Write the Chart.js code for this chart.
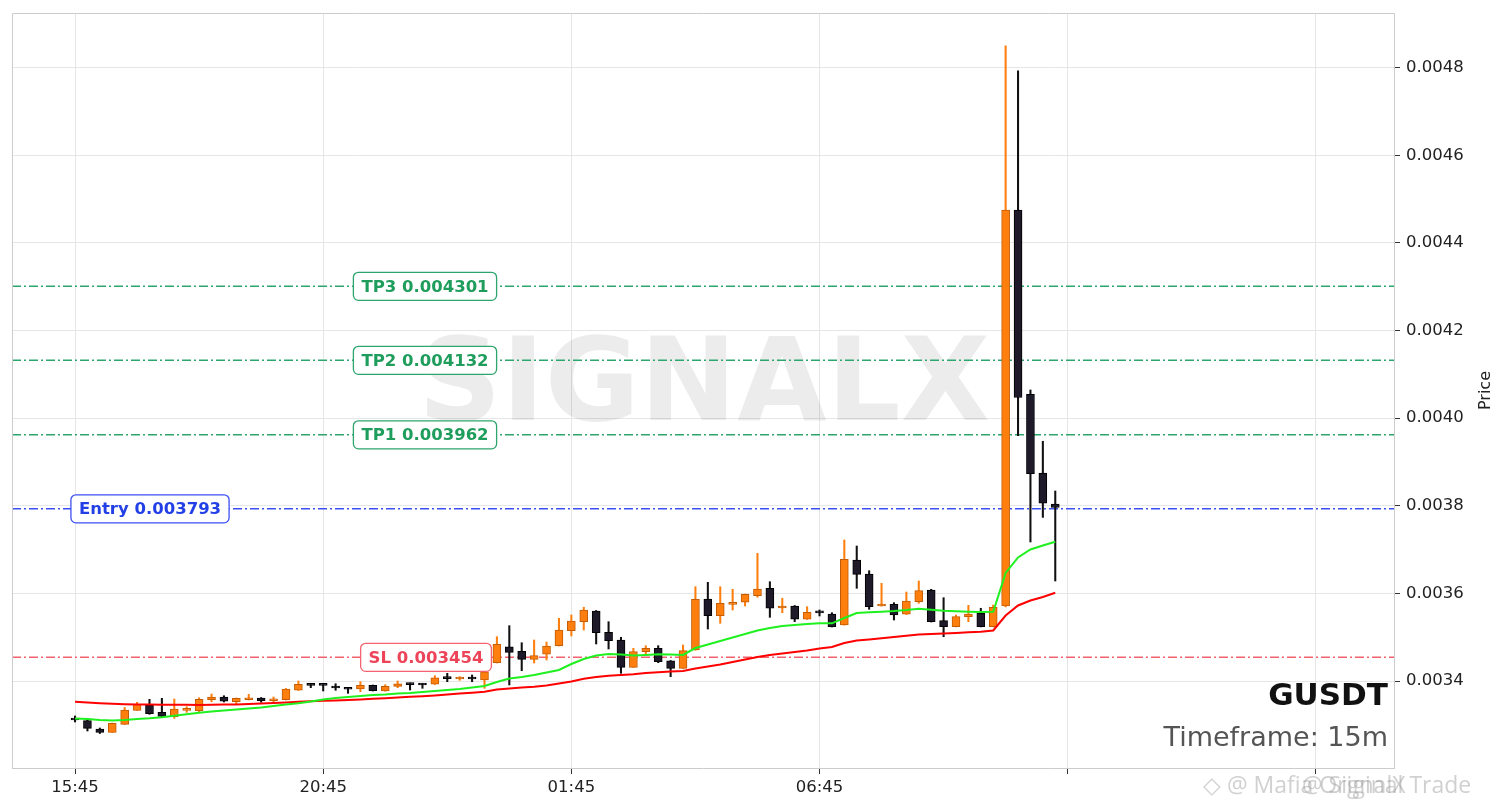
<!DOCTYPE html>
<html>
<head>
<meta charset="utf-8">
<script src="https://cdn.jsdelivr.net/npm/chart.js@4.4.1/dist/chart.umd.min.js"></script>
<style>
  html, body { margin: 0; padding: 0; background: #fff; }
  canvas { display: block; }
</style>
</head>
<body>
<canvas id="chart" width="1501" height="808"></canvas>
<script>
// GUSDT 15m candles, index 0 = 15:45
const opens = [
  0.0033144, 0.0033094, 0.0032904, 0.0032829, 0.0033011, 0.0033331, 0.0033452, 0.0033285, 0.0033185, 0.0033331,
  0.0033322, 0.0033573, 0.0033635, 0.0033527, 0.0033573, 0.0033612, 0.0033550, 0.0033573, 0.0033788, 0.0033932,
  0.0033938, 0.0033879, 0.0033840, 0.0033817, 0.0033902, 0.0033772, 0.0033879, 0.0033947, 0.0033932, 0.0033925,
  0.0034075, 0.0034046, 0.0034068, 0.0034023, 0.0034418, 0.0034783, 0.0034678, 0.0034495, 0.0034610, 0.0034806,
  0.0035148, 0.0035354, 0.0035598, 0.0035112, 0.0034936, 0.0034313, 0.0034669, 0.0034747, 0.0034463, 0.0034290,
  0.0034708, 0.0035872, 0.0035491, 0.0035751, 0.0035797, 0.0035947, 0.0036116, 0.0035667, 0.0035712, 0.0035409,
  0.0035587, 0.0035530, 0.0035279, 0.0036763, 0.0036443, 0.0035712, 0.0035751, 0.0035523, 0.0035810, 0.0036078,
  0.0035377, 0.0035240, 0.0035468, 0.0035546, 0.0035240, 0.0035712, 0.0044753, 0.0040543, 0.0038749, 0.0038041
];
const highs = [
  0.0033201, 0.0033144, 0.0032927, 0.0033041, 0.0033395, 0.0033514, 0.0033582, 0.0033605, 0.0033589, 0.0033413,
  0.0033619, 0.0033703, 0.0033664, 0.0033612, 0.0033696, 0.0033623, 0.0033635, 0.0033829, 0.0034000, 0.0033936,
  0.0033947, 0.0033938, 0.0033845, 0.0033984, 0.0033909, 0.0033916, 0.0034000, 0.0033954, 0.0033943, 0.0034121,
  0.0034176, 0.0034098, 0.0034137, 0.0034290, 0.0035011, 0.0035263, 0.0034874, 0.0034936, 0.0034890, 0.0035432,
  0.0035507, 0.0035683, 0.0035610, 0.0035354, 0.0034998, 0.0034747, 0.0034806, 0.0034806, 0.0034468, 0.0034822,
  0.0036153, 0.0036253, 0.0036153, 0.0036094, 0.0035986, 0.0036916, 0.0036267, 0.0035888, 0.0035724, 0.0035696,
  0.0035621, 0.0035559, 0.0037219, 0.0037082, 0.0036518, 0.0036231, 0.0035788, 0.0036032, 0.0036283, 0.0036094,
  0.0035902, 0.0035507, 0.0035728, 0.0035660, 0.0035735, 0.0048498, 0.0047927, 0.0040644, 0.0039473, 0.0038338
];
const lows = [
  0.0033064, 0.0032858, 0.0032801, 0.0032824, 0.0033007, 0.0033326, 0.0033240, 0.0033167, 0.0033148, 0.0033285,
  0.0033285, 0.0033527, 0.0033521, 0.0033475, 0.0033566, 0.0033514, 0.0033514, 0.0033566, 0.0033783, 0.0033847,
  0.0033772, 0.0033788, 0.0033719, 0.0033756, 0.0033772, 0.0033767, 0.0033847, 0.0033795, 0.0033833, 0.0033920,
  0.0033984, 0.0034016, 0.0033984, 0.0033833, 0.0034411, 0.0033909, 0.0034235, 0.0034411, 0.0034479, 0.0034799,
  0.0035027, 0.0035164, 0.0034845, 0.0034731, 0.0034176, 0.0034308, 0.0034616, 0.0034418, 0.0034098, 0.0034285,
  0.0034703, 0.0035187, 0.0035317, 0.0035621, 0.0035712, 0.0035911, 0.0035454, 0.0035559, 0.0035354, 0.0035404,
  0.0035484, 0.0035233, 0.0035274, 0.0036116, 0.0035637, 0.0035708, 0.0035393, 0.0035518, 0.0035774, 0.0035347,
  0.0035011, 0.0035235, 0.0035354, 0.0035235, 0.0035235, 0.0035689, 0.0039603, 0.0037174, 0.0037735, 0.0036283
];
const closes = [
  0.0033110, 0.0032920, 0.0032829, 0.0033034, 0.0033338, 0.0033468, 0.0033253, 0.0033194, 0.0033361, 0.0033354,
  0.0033582, 0.0033635, 0.0033537, 0.0033605, 0.0033612, 0.0033550, 0.0033589, 0.0033817, 0.0033925, 0.0033902,
  0.0033902, 0.0033840, 0.0033811, 0.0033902, 0.0033779, 0.0033879, 0.0033938, 0.0033916, 0.0033909, 0.0034075,
  0.0034053, 0.0034062, 0.0034046, 0.0034212, 0.0034838, 0.0034655, 0.0034495, 0.0034578, 0.0034799, 0.0035164,
  0.0035370, 0.0035621, 0.0035103, 0.0034920, 0.0034313, 0.0034669, 0.0034747, 0.0034441, 0.0034290, 0.0034692,
  0.0035865, 0.0035491, 0.0035774, 0.0035788, 0.0035979, 0.0036100, 0.0035660, 0.0035696, 0.0035409, 0.0035568,
  0.0035557, 0.0035240, 0.0036779, 0.0036436, 0.0035696, 0.0035758, 0.0035507, 0.0035826, 0.0036062, 0.0035354,
  0.0035240, 0.0035468, 0.0035530, 0.0035240, 0.0035683, 0.0044753, 0.0040473, 0.0038735, 0.0038057, 0.0037961
];
// fast (green) and slow (red) moving averages
const maFast = [
  0.0033144, 0.0033132, 0.0033110, 0.0033098, 0.0033110, 0.0033132, 0.0033148, 0.0033171, 0.0033205, 0.0033240,
  0.0033276, 0.0033304, 0.0033329, 0.0033352, 0.0033372, 0.0033393, 0.0033429, 0.0033463, 0.0033491, 0.0033530,
  0.0033578, 0.0033612, 0.0033635, 0.0033658, 0.0033680, 0.0033692, 0.0033715, 0.0033726, 0.0033749, 0.0033772,
  0.0033795, 0.0033817, 0.0033852, 0.0033886, 0.0033977, 0.0034057, 0.0034091, 0.0034137, 0.0034194, 0.0034251,
  0.0034388, 0.0034502, 0.0034582, 0.0034616, 0.0034605, 0.0034582, 0.0034594, 0.0034610, 0.0034605, 0.0034594,
  0.0034753, 0.0034833, 0.0034913, 0.0034993, 0.0035073, 0.0035153, 0.0035210, 0.0035256, 0.0035279, 0.0035301,
  0.0035317, 0.0035317, 0.0035438, 0.0035553, 0.0035568, 0.0035582, 0.0035598, 0.0035621, 0.0035651, 0.0035626,
  0.0035603, 0.0035591, 0.0035582, 0.0035575, 0.0035582, 0.0036466, 0.0036820, 0.0037002, 0.0037094, 0.0037180
];
const maSlow = [
  0.0033527, 0.0033509, 0.0033491, 0.0033479, 0.0033470, 0.0033463, 0.0033461, 0.0033459, 0.0033457, 0.0033457,
  0.0033452, 0.0033457, 0.0033461, 0.0033466, 0.0033475, 0.0033486, 0.0033498, 0.0033509, 0.0033525, 0.0033539,
  0.0033548, 0.0033557, 0.0033566, 0.0033580, 0.0033594, 0.0033607, 0.0033623, 0.0033639, 0.0033653, 0.0033671,
  0.0033692, 0.0033712, 0.0033731, 0.0033756, 0.0033806, 0.0033829, 0.0033852, 0.0033870, 0.0033897, 0.0033943,
  0.0033989, 0.0034053, 0.0034091, 0.0034119, 0.0034137, 0.0034153, 0.0034183, 0.0034199, 0.0034217, 0.0034228,
  0.0034285, 0.0034331, 0.0034377, 0.0034434, 0.0034491, 0.0034548, 0.0034594, 0.0034628, 0.0034662, 0.0034696,
  0.0034742, 0.0034776, 0.0034868, 0.0034925, 0.0034947, 0.0034975, 0.0035005, 0.0035034, 0.0035062, 0.0035073,
  0.0035084, 0.0035096, 0.0035112, 0.0035126, 0.0035153, 0.0035495, 0.0035724, 0.0035838, 0.0035918, 0.0036016
];

const levelNames = ['TP3', 'TP2', 'TP1', 'Entry', 'SL'];
const levelValues = [0.004301, 0.004132, 0.003962, 0.003793, 0.003454];

const xTickPos = [0, 20, 40, 60, 80, 100];
const xTickLabels = ['15:45', '20:45', '01:45', '06:45', '', ''];
const yTicks = [0.0034, 0.0036, 0.0038, 0.0040, 0.0042, 0.0044, 0.0046, 0.0048];
const xRange = [-5.08, 106.3];
const yRange = [0.0032014, 0.004925];

// styles for the level lines / boxes
const levelStyle = {
  TP3:   { line: '#2fa56e', text: '#1f9d5c', labelX: 425 },
  TP2:   { line: '#2fa56e', text: '#1f9d5c', labelX: 425 },
  TP1:   { line: '#2fa56e', text: '#1f9d5c', labelX: 425 },
  Entry: { line: '#3d50f5', text: '#2340e6', labelX: 150 },
  SL:    { line: '#f2626f', text: '#ee4459', labelX: 426 }
};

const UP = '#ff7f0e', UP_EDGE = '#c25c05';
const DOWN = '#1e1a2a', DOWN_EDGE = '#000000';
const FONT = '"DejaVu Sans", sans-serif';

const idx = opens.map((_, i) => i);
const isUp = idx.map(i => closes[i] >= opens[i]);

const datasets = [
  {
    type: 'line', order: 0,
    data: idx.map(i => ({ x: i, y: maFast[i] })),
    borderColor: '#1ff01f', borderWidth: 2, pointRadius: 0, tension: 0
  },
  {
    type: 'line', order: 0,
    data: idx.map(i => ({ x: i, y: maSlow[i] })),
    borderColor: '#ff0000', borderWidth: 2, pointRadius: 0, tension: 0
  },
  {
    type: 'bar', order: 1,
    data: idx.map(i => ({ x: i, y: [opens[i], closes[i]] })),
    backgroundColor: idx.map(i => isUp[i] ? UP : DOWN),
    borderColor: idx.map(i => isUp[i] ? UP_EDGE : DOWN_EDGE),
    borderWidth: 1, borderSkipped: false, barThickness: 8, minBarLength: 2, grouped: false
  },
  {
    type: 'bar', order: 2,
    data: idx.map(i => ({ x: i, y: [lows[i], highs[i]] })),
    backgroundColor: idx.map(i => isUp[i] ? UP : '#111111'),
    borderWidth: 0, barThickness: 1.4, grouped: false
  }
];

levelNames.forEach((name, k) => {
  datasets.push({
    type: 'line', order: 3,
    data: [{ x: xRange[0], y: levelValues[k] }, { x: xRange[1], y: levelValues[k] }],
    borderColor: levelStyle[name].line, borderWidth: 1.5,
    borderDash: [9, 3, 2, 3], pointRadius: 0
  });
});

function roundRect(ctx, x, y, w, h, r) {
  ctx.beginPath();
  ctx.moveTo(x + r, y);
  ctx.arcTo(x + w, y, x + w, y + h, r);
  ctx.arcTo(x + w, y + h, x, y + h, r);
  ctx.arcTo(x, y + h, x, y, r);
  ctx.arcTo(x, y, x + w, y, r);
  ctx.closePath();
}

const overlay = {
  id: 'overlay',
  beforeDatasetsDraw(chart) {
    const { ctx, chartArea: a } = chart;
    ctx.save();
    ctx.font = 'bold 116px ' + FONT;
    ctx.fillStyle = 'rgba(0,0,0,0.075)';
    ctx.textAlign = 'center';
    ctx.textBaseline = 'alphabetic';
    ctx.fillText('SIGNALX', (a.left + a.right) / 2 + 1, 420);
    ctx.restore();
  },
  afterDatasetsDraw(chart) {
    const { ctx } = chart;
    const ys = chart.scales.y;
    ctx.save();
    ctx.font = 'bold 16.5px ' + FONT;
    ctx.textAlign = 'center';
    ctx.textBaseline = 'middle';
    levelNames.forEach((name, k) => {
      const st = levelStyle[name];
      const txt = name + ' ' + levelValues[k].toFixed(6);
      const w = ctx.measureText(txt).width + 16;
      const h = 28;
      const cy = ys.getPixelForValue(levelValues[k]);
      roundRect(ctx, st.labelX - w / 2, cy - h / 2, w, h, 5);
      ctx.fillStyle = '#ffffff';
      ctx.fill();
      ctx.lineWidth = 1.3;
      ctx.strokeStyle = st.line;
      ctx.stroke();
      ctx.fillStyle = st.text;
      ctx.fillText(txt, st.labelX, cy + 1);
    });
    ctx.restore();
  },
  afterDraw(chart) {
    const { ctx, chartArea: a } = chart;
    ctx.save();
    // frame top / left
    ctx.strokeStyle = '#cccccc';
    ctx.lineWidth = 1;
    ctx.beginPath();
    ctx.moveTo(a.left + 0.5, a.bottom);
    ctx.lineTo(a.left + 0.5, a.top + 0.5);
    ctx.lineTo(a.right, a.top + 0.5);
    ctx.stroke();

    ctx.textAlign = 'right';
    ctx.textBaseline = 'alphabetic';
    ctx.fillStyle = '#111111';
    ctx.font = 'bold 31px ' + FONT;
    ctx.fillText('GUSDT', a.right - 6, 705);
    ctx.fillStyle = '#555555';
    ctx.font = '27px ' + FONT;
    ctx.fillText('Timeframe: 15m', a.right - 6, 746);

    // axis title
    ctx.save();
    ctx.translate(1486, (a.top + a.bottom) / 2);
    ctx.rotate(-Math.PI / 2);
    ctx.textAlign = 'center';
    ctx.textBaseline = 'middle';
    ctx.fillStyle = '#222222';
    ctx.font = '16px ' + FONT;
    ctx.fillText('Price', 0, 0);
    ctx.restore();

    // source watermark
    ctx.textAlign = 'left';
    ctx.font = '23px "Open Sans", sans-serif';
    ctx.fillStyle = 'rgba(150,150,150,0.45)';
    ctx.fillText('\u25C7 @ Mafia Original Trade', 1203, 793);
    ctx.fillText('@ SignalX', 1302, 793);
    ctx.restore();
  }
};

new Chart(document.getElementById('chart'), {
  type: 'bar',
  data: { datasets },
  options: {
    responsive: false,
    animation: false,
    devicePixelRatio: 1,
    layout: { padding: { left: 12, top: 13, right: 0, bottom: 0 } },
    plugins: { legend: { display: false }, tooltip: { enabled: false } },
    scales: {
      x: {
        type: 'linear',
        min: xRange[0], max: xRange[1],
        offset: false,
        afterBuildTicks: s => { s.ticks = xTickPos.map(v => ({ value: v })); },
        afterFit: s => { s.height = 40; },
        ticks: {
          callback: v => xTickLabels[xTickPos.indexOf(v)] || '',
          color: '#222222', font: { family: FONT, size: 16.5 },
          padding: 4, maxRotation: 0, autoSkip: false, includeBounds: false
        },
        grid: { color: '#e6e6e6', tickColor: '#333333', tickLength: 6, offset: false },
        border: { color: '#cccccc' }
      },
      y: {
        position: 'right',
        min: yRange[0], max: yRange[1],
        afterBuildTicks: s => { s.ticks = yTicks.map(v => ({ value: v })); },
        afterFit: s => { s.width = 107; },
        ticks: {
          callback: v => v.toFixed(4),
          color: '#222222', font: { family: FONT, size: 16.5, lineHeight: 0.5 },
          padding: 6, includeBounds: false
        },
        grid: { color: '#e6e6e6', tickColor: '#333333', tickLength: 6 },
        border: { color: '#cccccc' }
      }
    }
  },
  plugins: [overlay]
});
</script>
</body>
</html>
